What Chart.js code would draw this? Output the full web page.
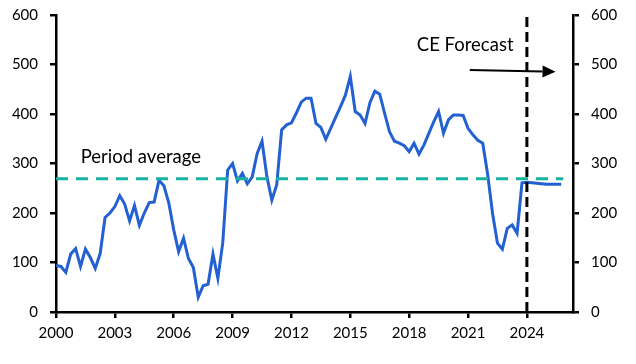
<!DOCTYPE html>
<html>
<head>
<meta charset="utf-8">
<script src="https://cdn.jsdelivr.net/npm/chart.js@4.4.1/dist/chart.umd.min.js"></script>
<style>
html,body{margin:0;padding:0;background:#fff;}
#wrap{width:636px;height:364px;}
</style>
</head>
<body>
<div id="wrap"><canvas id="c" width="636" height="364"></canvas></div>
<script>
// Quarterly series, 2000 Q1 to 2025 Q4 (2024 onward = CE forecast)
const firstYear = 2000;
const values = [
  94, 92, 80, 117,
  128, 92, 127, 110,
  88, 118, 191, 200,
  213, 235, 218, 184,
  215, 175, 200, 221,
  222, 266, 255, 220,
  166, 122, 149, 108,
  90, 30, 53, 56,
  117, 68, 140, 287,
  300, 265, 280, 259,
  273, 320, 345, 273,
  226, 257, 368, 378,
  382, 402, 424, 432,
  432, 381, 373, 349,
  371, 393, 415, 438,
  476, 405, 398, 381,
  423, 446, 440, 401,
  364, 345, 341, 336,
  324, 341, 319, 337,
  361, 384, 405, 361,
  388, 398, 398, 397,
  371, 358, 347, 341,
  278, 199, 139, 127,
  169, 176, 159, 261,
  262, 261, 260, 259,
  258, 258, 258, 258
];
const periodAverage = 269;
const forecastStart = 2024;
const xTickLabels = [2000, 2003, 2006, 2009, 2012, 2015, 2018, 2021, 2024];
const yTickLabels = [0, 100, 200, 300, 400, 500, 600];

const mainPoints = values.map((v, i) => ({ x: firstYear + i / 4, y: v }));
const lastX = firstYear + (values.length - 1) / 4;
const avgPoints = [{ x: firstYear, y: periodAverage }, { x: lastX + 0.1, y: periodAverage }];
const fcPoints = [{ x: forecastStart, y: 0 }, { x: forecastStart, y: 600 }];

const FONT = 'Lato, "Open Sans", sans-serif';
const tickFont = { family: FONT, size: 15 };

const annotate = {
  id: 'annotate',
  afterDatasetsDraw(chart) {
    const { ctx, scales } = chart;
    const xs = scales.x, ys = scales.y;
    ctx.save();
    ctx.fillStyle = '#000';
    ctx.font = '18.5px ' + FONT;
    ctx.textBaseline = 'middle';
    ctx.textAlign = 'left';
    ctx.fillText('Period average', xs.getPixelForValue(2001.26), ys.getPixelForValue(313));
    ctx.fillText('CE Forecast', xs.getPixelForValue(2018.39), ys.getPixelForValue(539));
    // arrow
    const x1 = xs.getPixelForValue(2021.09), y1 = ys.getPixelForValue(489);
    const x2 = xs.getPixelForValue(2025.46), y2 = ys.getPixelForValue(485.5);
    const ang = Math.atan2(y2 - y1, x2 - x1);
    const hl = 13, hw = 6;
    ctx.strokeStyle = '#000';
    ctx.lineWidth = 2;
    ctx.beginPath();
    ctx.moveTo(x1, y1);
    ctx.lineTo(x2 - hl * Math.cos(ang), y2 - hl * Math.sin(ang));
    ctx.stroke();
    ctx.beginPath();
    ctx.moveTo(x2, y2);
    ctx.lineTo(x2 - hl * Math.cos(ang) + hw * Math.sin(ang), y2 - hl * Math.sin(ang) - hw * Math.cos(ang));
    ctx.lineTo(x2 - hl * Math.cos(ang) - hw * Math.sin(ang), y2 - hl * Math.sin(ang) + hw * Math.cos(ang));
    ctx.closePath();
    ctx.fill();
    ctx.restore();
  }
};

const axisGrid = { drawOnChartArea: false, drawTicks: true, tickLength: 6, color: '#000', lineWidth: 2.5 };
const axisBorder = { display: true, color: '#000', width: 2.5 };

function yAxis(pos, w) {
  return {
    type: 'linear', position: pos, min: 0, max: 600,
    afterBuildTicks: s => { s.ticks = yTickLabels.map(v => ({ value: v })); },
    ticks: { font: tickFont, color: '#000', padding: 12, callback: v => String(v) },
    grid: axisGrid, border: axisBorder,
    afterFit: s => { s.width = w; s.paddingTop = 0; s.paddingBottom = 0; }
  };
}

new Chart(document.getElementById('c'), {
  type: 'line',
  data: {
    datasets: [
      { data: mainPoints, borderColor: '#2360d2', borderWidth: 3, pointRadius: 0, tension: 0, order: 3, yAxisID: 'y' },
      { data: avgPoints, borderColor: '#16b3a0', borderWidth: 3, borderDash: [12, 8], pointRadius: 0, order: 2, yAxisID: 'y' },
      { data: fcPoints, borderColor: '#000', borderWidth: 3, borderDash: [10, 5], pointRadius: 0, order: 1, yAxisID: 'y' }
    ]
  },
  options: {
    responsive: false,
    animation: false,
    layout: { padding: { top: 15, left: 0, right: 0, bottom: 0 } },
    plugins: { legend: { display: false }, tooltip: { enabled: false } },
    scales: {
      x: {
        type: 'linear', min: 2000, max: 2026.35,
        afterBuildTicks: s => { s.ticks = xTickLabels.map(v => ({ value: v })); },
        ticks: { font: tickFont, color: '#000', padding: 6, maxRotation: 0, autoSkip: false, callback: v => String(v) },
        grid: axisGrid, border: axisBorder,
        afterFit: s => { s.height = 52; s.paddingLeft = 0; s.paddingRight = 0; }
      },
      y: yAxis('left', 56),
      y2: yAxis('right', 63)
    }
  },
  plugins: [annotate]
});
</script>
</body>
</html>
